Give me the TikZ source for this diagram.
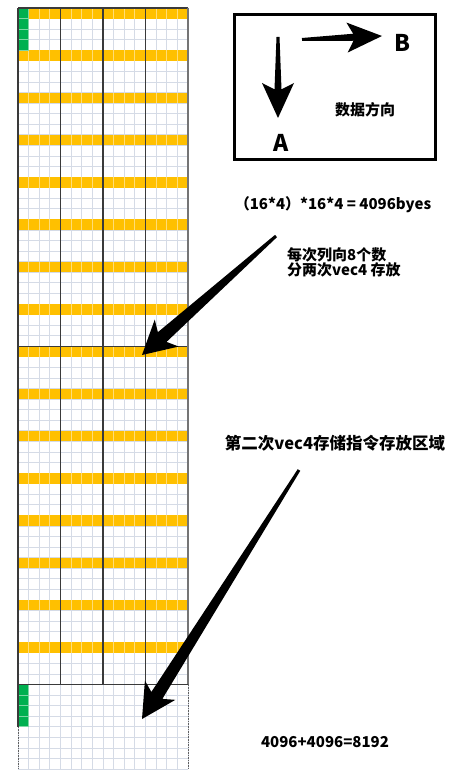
\documentclass[tikz,border=0pt]{standalone}
\usepackage{fontspec}
\newfontfamily\cjk{Noto Sans CJK SC}
\usetikzlibrary{calc}
\definecolor{gridc}{HTML}{D5DBE6}
\definecolor{yel}{HTML}{FFC000}
\definecolor{yelsep}{HTML}{FFDD77}
\definecolor{grn}{HTML}{00B050}
\definecolor{grnsep}{HTML}{7ED6A5}
\definecolor{heavy}{HTML}{3A3A3A}
\def\cw{10.625}
\def\rh{10.57}
% fat tapered arrow: start, tip, start half width, neck half width, head length, head half width
\newcommand{\fatarrow}[6]{%
  \coordinate (#1-h) at ($(#2)!#5!(#1)$);
  \coordinate (#1-n) at ($(#2)!#5*0.82!(#1)$);
  \fill[black] ($(#1)!#3!90:(#2)$) -- ($(#1-n)!#4!90:(#2)$) -- ($(#1-h)!#6!90:(#2)$) -- (#2)
    -- ($(#1-h)!#6!-90:(#2)$) -- ($(#1-n)!#4!-90:(#2)$) -- ($(#1)!#3!-90:(#2)$) -- cycle;}
\tikzset{
  txt/.style={inner sep=0pt, font=\cjk\bfseries\fontsize{15}{15}\selectfont, text=black},
  big/.style={font=\cjk\bfseries\fontsize{23}{23}\selectfont},
  mid/.style={font=\cjk\bfseries\fontsize{16.5}{16.5}\selectfont},
  thinline/.style={gridc, line width=0.8pt},
  heavyline/.style={heavy, line width=1.1pt},
  dashline/.style={heavy!80, line width=0.9pt, dash pattern=on 1.6pt off 1pt},
}
\begin{document}
\begin{tikzpicture}[x=1pt,y=-1pt]
\useasboundingbox (0,0) rectangle (462,775);
\fill[white] (0,0) rectangle (462,775);
% light grid
\foreach \i in {0,...,16} \draw[thinline] ({18+\i*\cw},8) -- ({18+\i*\cw},769);
\foreach \j in {0,...,72} \draw[thinline] (18,{8+\j*\rh}) -- (188,{8+\j*\rh});
% yellow rows
\foreach \k in {0,...,15} {
  \fill[yel] (18,{8+4*\k*\rh}) rectangle (188,{8+(4*\k+1)*\rh});
  \foreach \i in {1,...,15} \draw[yelsep, line width=0.8pt] ({18+\i*\cw},{8+4*\k*\rh}) -- ++(0,\rh);
}
% green cells
\foreach \r in {0,1,2,3,64,65,66,67}
  \filldraw[fill=grn, draw=grnsep, line width=0.6pt] (18,{8+\r*\rh}) rectangle ++(\cw,\rh);
% heavy lines
\foreach \i in {4,8,12} \draw[heavyline] ({18+\i*\cw},8) -- ({18+\i*\cw},{8+64*\rh});
\foreach \j in {0,32,64} \draw[heavyline] (18,{8+\j*\rh}) -- (188,{8+\j*\rh});
\draw[heavyline] (18,8) -- (18,{8+68*\rh});
\draw[heavyline, heavy!70] (188,8) -- (188,{8+64*\rh});
\draw[dashline] (18,{8+68*\rh}) -- (18,769);
\draw[dashline] (188,{8+64*\rh}) -- (188,769);
% legend box
\node[draw, line width=3pt, inner sep=0pt, minimum width=201pt, minimum height=145pt] (box) at (335,87) {};
\coordinate (da-s) at (278,37);
\coordinate (da-t) at (278,118);
\fatarrow{da-s}{da-t}{1.5pt}{3.5pt}{35pt}{16pt}
\coordinate (ra-s) at (302,39.5);
\coordinate (ra-t) at (382,36);
\fatarrow{ra-s}{ra-t}{1.5pt}{3.5pt}{35pt}{15pt}
\node[txt,big] (tB) at (402,43) {B};
\node[txt,big] (tA) at (281,143) {A};
\node[txt] (tdir) at (365,110) {数据方向};
% texts
\node[txt] (tcalc) at (333,205) {（16*4）*16*4 = 4096byes};
\node[txt, anchor=west, align=left] (tcol) at (287,262) {每次列向8个数\\分两次vec4 存放};
\node[txt,mid] (tsec) at (335,443) {第二次vec4存储指令存放区域};
\node[txt] (tsum) at (325,742) {4096+4096=8192};
% big arrows
\coordinate (a1-s) at (276,236);
\coordinate (a1-t) at (142,355);
\fatarrow{a1-s}{a1-t}{1.5pt}{6.5pt}{33pt}{18pt}
\coordinate (a2-s) at (299,470);
\coordinate (a2-t) at (142,719);
\fatarrow{a2-s}{a2-t}{1.5pt}{6.5pt}{34pt}{18pt}
\end{tikzpicture}
\end{document}
